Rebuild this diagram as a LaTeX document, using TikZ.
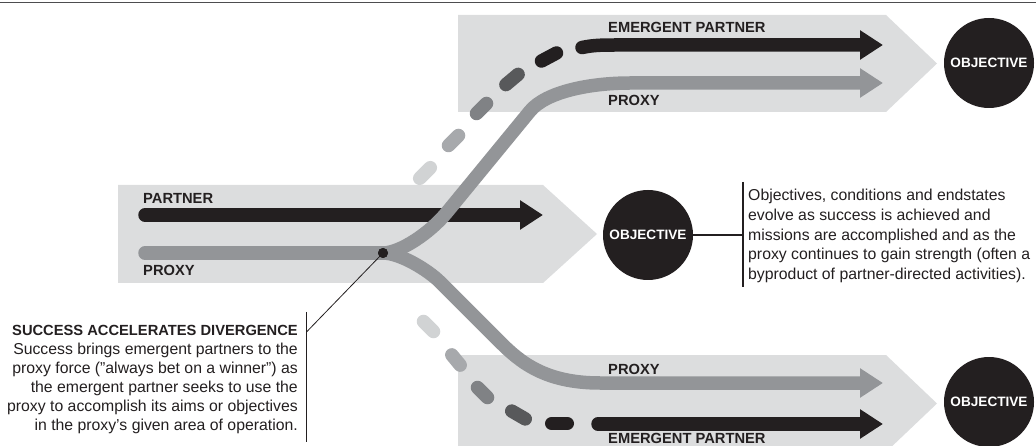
\documentclass[tikz,border=0pt]{standalone}
\usepackage{fontspec}
\setmainfont{Liberation Sans}
\usetikzlibrary{arrows.meta}
\definecolor{ink}{HTML}{231F20}
\definecolor{bandgray}{HTML}{DCDDDE}
\definecolor{prox}{HTML}{939598}
\definecolor{dA}{HTML}{D1D3D4}
\definecolor{dB}{HTML}{A7A9AC}
\definecolor{dC}{HTML}{808285}
\definecolor{dD}{HTML}{58595B}
\definecolor{rulegray}{HTML}{4D4D4F}
\begin{document}
\begin{tikzpicture}[x=1pt,y=-1pt,
  flow/.style={line width=13.5pt,line cap=round},
  head/.style={-{Triangle[length=23pt,width=28pt]}},
  dashseg/.style={line width=13.5pt,line cap=round},
  lbl/.style={font=\fontsize{14.7}{17}\selectfont\bfseries,text=ink,inner sep=0pt,anchor=base west},
  obj/.style={circle,fill=ink,minimum size=90pt,inner sep=0pt,text=white,font=\fontsize{13.6}{16}\selectfont\bfseries},
  body/.style={text=ink,inner sep=0pt},
  thinline/.style={draw=ink,line width=1.1pt}]
\useasboundingbox (0,0) rectangle (1036,446);
\clip (0,0) rectangle (1036,446);
% top rule
\coordinate (r1) at (0,2.5); \coordinate (r2) at (1036,2.5);
\draw[rulegray,line width=1.6pt] (r1) -- (r2);
% bands
\fill[bandgray] (458,15) -- (886,15) -- (937,63.5) -- (886,112) -- (458,112) -- cycle;
\fill[bandgray] (118,185) -- (543,185) -- (597,234) -- (543,283) -- (118,283) -- cycle;
\fill[bandgray] (458,355) -- (886,355) -- (937,403.5) -- (886,452) -- (458,452) -- cycle;
% coordinates
\coordinate (pS) at (145,215); \coordinate (pE) at (543,215);
\coordinate (xS) at (145,253); \coordinate (J) at (383,253);
\coordinate (tpE) at (883,83); \coordinate (bpE) at (883,383);
\coordinate (teS) at (582,47.5); \coordinate (teE) at (883,45);
\coordinate (beS) at (598,424); \coordinate (beE) at (883,424);
% partner
\draw[flow,ink,head] (pS) -- (pE);
% proxy
\draw[flow,prox] (xS) -- (J);
\draw[flow,prox,head] (J) .. controls (400,253) and (430,233) .. (447,212.2) -- (530,111.1)
  .. controls (546,91.7) and (590,83) .. (630,83) -- (tpE);
\draw[flow,prox,head] (J) .. controls (400,253) and (428,270) .. (440,282) -- (500,342)
  .. controls (520,362) and (545,383) .. (600,383) -- (bpE);
% emergent partner top
\draw[dashseg,dA] (419.7,178.3) -- (430.3,167.7);
\draw[dashseg,dB] (448.5,145.5) -- (458.5,135.5);
\draw[dashseg,dC] (476.5,113.5) -- (486.5,103.5);
\draw[dashseg,dD] (505.9,84.6) -- (518.1,74.4);
\draw[dashseg,ink] (541.5,61) -- (556.5,53);
\draw[flow,ink,head] (teS) .. controls (594,45) and (603,45) .. (618,45) -- (teE);
% emergent partner bottom
\draw[dashseg,dA] (423.5,321.5) -- (433.5,331.5);
\draw[dashseg,dB] (451.8,354.9) -- (460.2,365.1);
\draw[dashseg,dC] (477.5,387.5) -- (487.5,397.5);
\draw[dashseg,dD] (511.75,411.1) -- (525.25,418.9);
\draw[dashseg,ink] (551.75,423.5) -- (567.25,423.5);
\draw[flow,ink,head] (beS) -- (beE);
% labels
\node[lbl] (lT1) at (608,33) {EMERGENT PARTNER};
\node[lbl] (lT2) at (608,106) {PROXY};
\node[lbl] (lM1) at (143,204) {PARTNER};
\node[lbl] (lM2) at (143,276) {PROXY};
\node[lbl] (lB1) at (608,374) {PROXY};
\node[lbl] (lB2) at (608,443.5) {EMERGENT PARTNER};
% objectives
\node[obj] (objT) at (989,63) {OBJECTIVE};
\node[obj] (objM) at (648,235) {OBJECTIVE};
\node[obj] (objB) at (989,402) {OBJECTIVE};
% left annotation
\coordinate (vL1) at (306.5,312); \coordinate (vL2) at (306.5,442);
\draw[thinline] (vL1) -- (vL2);
\coordinate (lk) at (306.5,332);
\node[circle,fill=ink,minimum size=10pt,inner sep=0pt] (dot) at (J) {};
\draw[draw=ink,line width=0.8pt] (lk) -- (dot.center);
\node[circle,fill=ink,minimum size=10pt,inner sep=0pt] (dot2) at (J) {};
\node[body,align=right,anchor=base east,font=\fontsize{15.8}{18.9}\selectfont] (succ) at (298,430)
 {{\fontsize{14.7}{18.9}\selectfont\bfseries SUCCESS ACCELERATES DIVERGENCE}\\
  Success brings emergent partners to the\\
  proxy force (”always bet on a winner”) as\\
  the emergent partner seeks to use the\\
  proxy to accomplish its aims or objectives\\
  in the proxy’s given area of operation.};
% right annotation
\coordinate (vR1) at (743,182); \coordinate (vR2) at (743,287); \coordinate (vRm) at (743,235);
\draw[thinline] (vR1) -- (vR2);
\draw[thinline] (objM) -- (vRm);
\node[body,align=left,anchor=base west,font=\fontsize{15.8}{19.7}\selectfont] (note) at (748,279.5)
 {Objectives, conditions and endstates\\
  evolve as success is achieved and\\
  missions are accomplished and as the\\
  proxy continues to gain strength (often a\\
  byproduct of partner-directed activities).};
\end{tikzpicture}
\end{document}
